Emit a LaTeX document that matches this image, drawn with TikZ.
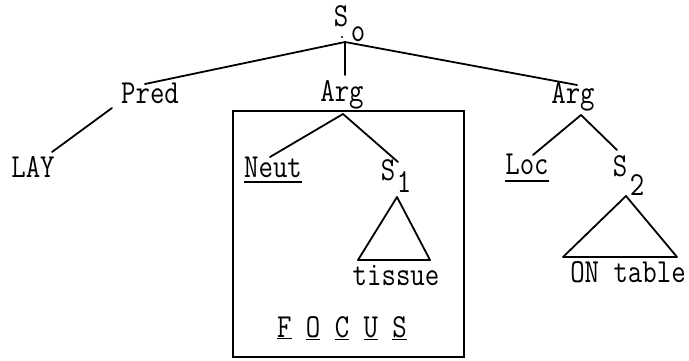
\documentclass[tikz,border=0pt]{standalone}
\usepackage{graphicx}
\newcommand{\tall}[1]{\scalebox{1}[1.2]{#1}}
\begin{document}
\begin{tikzpicture}[x=1pt,y=-1pt,
  lbl/.style={inner sep=0pt,anchor=base,font=\ttfamily\fontsize{28}{34}\selectfont},
  edge/.style={line width=1.8pt,line cap=round},
  uline/.style={line width=1.4pt}]
\useasboundingbox (0,0) rectangle (689,361);
% nodes
\node[lbl] (s0) at (341,27) {\tall{S}};
\node[lbl] (s0sub) at (358,42) {\tall{o}};
\node[lbl] (pred) at (150,103) {\tall{Pred}};
\node[lbl] (arg1) at (342,102) {\tall{Arg}};
\node[lbl] (arg2) at (573,103) {\tall{Arg}};
\node[lbl] (lay) at (33,178) {\tall{LAY}};
\node[lbl] (neut) at (273,177) {\tall{Neut}};
\node[lbl] (s1) at (388,180) {\tall{S}};
\node[lbl] (s1sub) at (404,193) {\tall{1}};
\node[lbl] (tissue) at (396,285) {\tall{tissue}};
\node[lbl] (loc) at (527,175) {\tall{Loc}};
\node[lbl] (s2) at (620,176) {\tall{S}};
\node[lbl] (s2sub) at (637,195) {\tall{2}};
\node[lbl] (ontable) at (628,282) {\tall{ON table}};
\node[lbl] (focus) at (342,337) {\underline{\tall{F}} \underline{\tall{O}} \underline{\tall{C}} \underline{\tall{U}} \underline{\tall{S}}};
% connector end points
\coordinate (s0apex) at (345,42);
\coordinate (predtop) at (145,84);
\coordinate (arg1top) at (345,75);
\coordinate (arg2top) at (577,85);
\coordinate (predbot) at (112,108);
\coordinate (laytop) at (52,152);
\coordinate (arg1bot) at (343,114);
\coordinate (neuttop) at (270,157);
\coordinate (s1top) at (398,162);
\coordinate (arg2bot) at (581,115);
\coordinate (loctop) at (533,155);
\coordinate (s2top) at (617,150);
\coordinate (t1a) at (397,197);
\coordinate (t1b) at (358,260);
\coordinate (t1c) at (430,260);
\coordinate (t2a) at (626,196);
\coordinate (t2b) at (563,257);
\coordinate (t2c) at (677,257);
% tree edges
\draw[edge] (s0apex) -- (predtop);
\draw[edge] (s0apex) -- (arg1top);
\draw[edge] (s0apex) -- (arg2top);
\fill (342,37) circle (1.2pt);
\draw[edge] (predbot) -- (laytop);
\draw[edge] (arg1bot) -- (neuttop);
\draw[edge] (arg1bot) -- (s1top);
\draw[edge] (arg2bot) -- (loctop);
\draw[edge] (arg2bot) -- (s2top);
\draw[edge,line join=round] (t1a) -- (t1b) -- (t1c) -- cycle;
\draw[edge,line join=round] (t2a) -- (t2b) -- (t2c) -- cycle;
% underlines
\draw[uline] ([yshift=-5pt]neut.base west) -- ([yshift=-5pt]neut.base east);
\draw[uline] ([yshift=-6pt]loc.base west) -- ([yshift=-6pt]loc.base east);
% focus box
\draw[line width=1.6pt] (233,111) rectangle (464,357);
\end{tikzpicture}
\end{document}
